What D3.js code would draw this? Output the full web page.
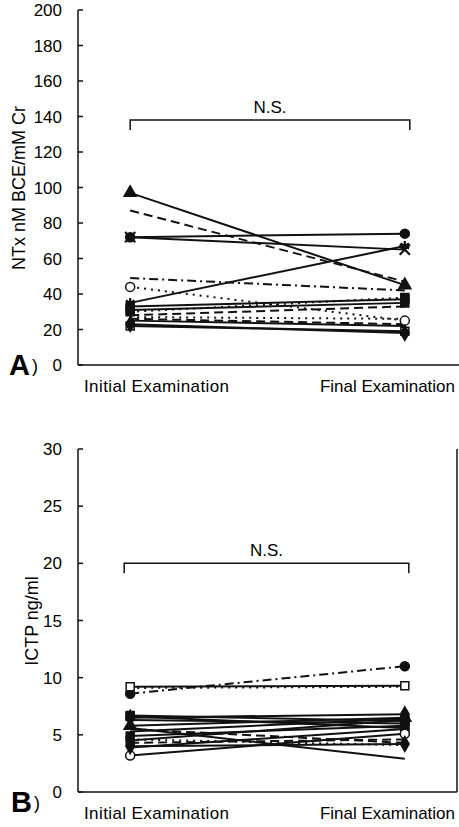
<!DOCTYPE html>
<html lang="en">
  <head>
    <meta charset="utf-8">
    <script src="https://d3js.org/d3.v7.min.js"></script>
    <title>NTx and ICTP</title>
    <style>
      body { margin: 0; background: #fff; }
      text { font-family: "Liberation Sans", Arial, sans-serif; fill: #000; }
    </style>
  </head>
  <body>
  <script type="text/javascript">

    var width = 459;
    var height = 827;

    var categories = ["Initial Examination", "Final Examination"];

    // Panel A: NTx nM BCE/mM Cr
    var ntxTicks = [0, 20, 40, 60, 80, 100, 120, 140, 160, 180, 200];
    var ntxInitial = [97, 87, 72, 72, 35, 49, 44, 33, 31, 30, 28, 27, 26, 25, 22, 23];
    var ntxFinal   = [45, 47, 74, 65, 67, 42, 25, 37, 35, 38, 33, 26, 23, 22, 19, 18];
    var ntxDash    = ["solid", "dashed", "solid", "solid", "solid", "dashdot", "dotted", "solid",
                      "solid", "dotted", "dashed", "dotted", "dashed", "solid", "solid", "solid"];
    var ntxMarker  = ["triangle", "none", "circle", "x", "star", "none", "circleOpen", "square",
                      "square", "square", "none", "none", "none", "none", "squareOpen", "diamond"];

    // Panel B: ICTP ng/ml
    var ictpTicks = [0, 5, 10, 15, 20, 25, 30];
    var ictpInitial = [8.6, 9.2, 9.1, 6.7, 6.6, 6.5, 6.3, 5.8, 5.5, 5.3, 5.6, 4.9, 4.6, 4.3, 4.5, 3.9, 3.2, 4.0];
    var ictpFinal   = [11.0, 9.3, 9.2, 6.2, 5.6, 6.8, 6.0, 6.5, 4.3, 6.4, 2.9, 5.8, 4.1, 4.6, 6.3, 5.5, 5.1, 4.2];
    var ictpDash    = ["dashdot", "solid", "dotted", "solid", "solid", "solid", "solid", "solid", "dashed",
                       "solid", "solid", "solid", "dotted", "dashed", "solid", "solid", "solid", "solid"];
    var ictpMarker  = ["circle", "squareOpen", "none", "square", "square", "diamond", "none", "triangle", "none",
                       "none", "none", "square", "none", "none", "square", "none", "circleOpen", "diamond"];

    var dashArray = { solid: null, dashed: "9,5", dotted: "2,5", dashdot: "9,4,2,4" };

    var svg = d3.select("body").append("svg")
      .attr("width", width)
      .attr("height", height);

    var x = d3.scalePoint()
      .domain(categories)
      .range([78, 457])
      .padding(0.19);

    function symbolFor(name) {
      if (name == "triangle") return d3.symbolTriangle;
      if (name == "circle" || name == "circleOpen") return d3.symbolCircle;
      if (name == "square" || name == "squareOpen") return d3.symbolSquare;
      if (name == "diamond") return d3.symbolDiamond;
      if (name == "x") return d3.symbolX || d3.symbolCross;
      if (name == "star") return d3.symbolAsterisk || d3.symbolCross;
      return null;
    }

    function drawPanel(opts) {
      var y = d3.scaleLinear().domain(opts.domain).range(opts.range);
      var g = svg.append("g");

      // axes
      g.append("line")
        .attr("x1", 78).attr("x2", 78)
        .attr("y1", y(opts.domain[1])).attr("y2", y(0))
        .attr("stroke", "#111").attr("stroke-width", 1.5);
      g.append("line")
        .attr("x1", 78).attr("x2", opts.axisRight)
        .attr("y1", y(0)).attr("y2", y(0))
        .attr("stroke", "#111").attr("stroke-width", 1.5);
      if (opts.rightBorder) {
        g.append("line")
          .attr("x1", 457).attr("x2", 457)
          .attr("y1", y(opts.domain[1])).attr("y2", y(0))
          .attr("stroke", "#111").attr("stroke-width", 1.5);
      }

      g.selectAll(".tick")
        .data(opts.ticks)
        .enter().append("line")
        .attr("x1", 78).attr("x2", 83)
        .attr("y1", function(d) { return y(d); })
        .attr("y2", function(d) { return y(d); })
        .attr("stroke", "#111").attr("stroke-width", 1.5);

      g.selectAll(".ticklabel")
        .data(opts.ticks)
        .enter().append("text")
        .attr("x", 62)
        .attr("y", function(d) { return y(d); })
        .attr("dy", "0.36em")
        .attr("text-anchor", "end")
        .style("font-size", "17px")
        .text(function(d) { return d; });

      // axis title
      g.append("text")
        .attr("transform", "translate(" + opts.titleX + "," + opts.titleY + ") rotate(-90)")
        .attr("text-anchor", "middle")
        .style("font-size", "18px")
        .text(opts.title);

      // category labels
      g.append("text")
        .attr("x", 84).attr("y", y(0) + 27)
        .attr("textLength", 145)
        .style("font-size", "17px")
        .text(categories[0]);
      g.append("text")
        .attr("x", 455).attr("y", y(0) + 27)
        .attr("text-anchor", "end")
        .style("font-size", "17px")
        .text(categories[1]);

      // panel letter
      var letter = g.append("text")
        .attr("x", opts.letterX).attr("y", opts.letterY);
      letter.append("tspan").style("font-size", "29px").style("font-weight", "bold").text(opts.letter);
      letter.append("tspan").attr("dx", 2).attr("dy", -3).style("font-size", "18px").text(")");

      // N.S. bracket
      var bx1 = x(categories[0]) + opts.bracketDx[0];
      var bx2 = x(categories[1]) + opts.bracketDx[1];
      var by = y(opts.bracket);
      g.append("path")
        .attr("d", "M" + bx1 + "," + (by + 10) + "V" + by + "H" + bx2 + "V" + (by + 10))
        .attr("fill", "none")
        .attr("stroke", "#111").attr("stroke-width", 1.5);
      g.append("text")
        .attr("x", (bx1 + bx2) / 2).attr("y", by - 7)
        .attr("text-anchor", "middle")
        .style("font-size", "17px")
        .text("N.S.");

      // series
      var series = opts.initial.map(function(v, i) {
        return { values: [v, opts.final[i]], dash: opts.dash[i], marker: opts.marker[i] };
      });

      var line = d3.line()
        .x(function(d, i) { return x(categories[i]); })
        .y(function(d) { return y(d); });

      g.selectAll(".series")
        .data(series)
        .enter().append("path")
        .attr("d", function(d) { return line(d.values); })
        .attr("fill", "none")
        .attr("stroke", "#111")
        .attr("stroke-width", 2)
        .attr("stroke-dasharray", function(d) { return dashArray[d.dash]; });

      series.forEach(function(s) {
        var sym = symbolFor(s.marker);
        if (!sym) return;
        var stroked = (s.marker == "x" || s.marker == "star");
        var open = (s.marker == "circleOpen" || s.marker == "squareOpen");
        s.values.forEach(function(v, i) {
          g.append("path")
            .attr("d", d3.symbol().type(sym).size(stroked ? 70 : 64)())
            .attr("transform", "translate(" + x(categories[i]) + "," + y(v) + ")")
            .attr("fill", stroked ? "none" : (open ? "#fff" : "#111"))
            .attr("stroke", "#111")
            .attr("stroke-width", stroked ? 2.2 : 1.5);
        });
      });
    }

    drawPanel({
      domain: [0, 200], range: [365, 10], ticks: ntxTicks,
      initial: ntxInitial, final: ntxFinal, dash: ntxDash, marker: ntxMarker,
      axisRight: 459, rightBorder: false,
      title: "NTx nM BCE/mM Cr", titleX: 25, titleY: 188,
      letter: "A", letterX: 9, letterY: 375,
      bracket: 138, bracketDx: [0, 5]
    });

    drawPanel({
      domain: [0, 30], range: [792, 449], ticks: ictpTicks,
      initial: ictpInitial, final: ictpFinal, dash: ictpDash, marker: ictpMarker,
      axisRight: 457, rightBorder: true,
      title: "ICTP ng/ml", titleX: 38, titleY: 621,
      letter: "B", letterX: 11, letterY: 812,
      bracket: 20, bracketDx: [-6, 4]
    });

  </script>
  </body>
</html>
